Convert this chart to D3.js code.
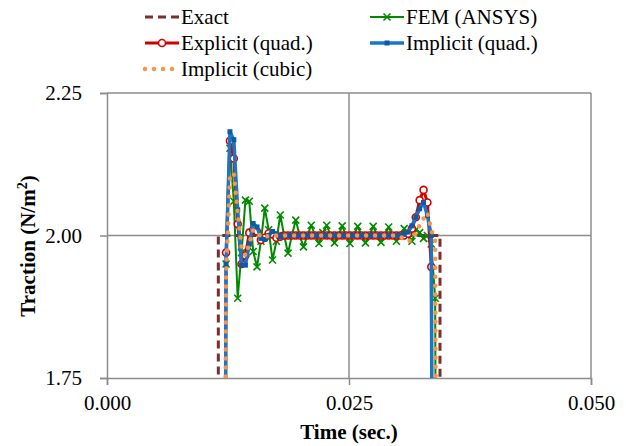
<!DOCTYPE html>
<html>
<head>
<meta charset="utf-8">
<script src="https://cdn.jsdelivr.net/npm/d3@7/dist/d3.min.js"></script>
<style>
  body { margin: 0; background: #fff; }
  svg { display: block; }
  svg text { font-family: "Liberation Serif", "DejaVu Serif", "Times New Roman", serif; fill: #000; }
  .axis path, .axis line { stroke: #8c8c8c; stroke-width: 1.5; }
  .axis text { font-size: 21px; }
</style>
</head>
<body>
<svg class="chart"></svg>
<script>
// -------------------- Data --------------------
// Exact solution (step), clipped by the plot area
var exactTime = [0.0115, 0.0115, 0.0344, 0.0344];
var exactValue = [0, 2.00, 2.00, 0];

// Time steps shared by the numerical solutions (sec.)
var timeSteps = [
  0.0119, 0.0123, 0.0127, 0.0131, 0.0135, 0.0139, 0.0143, 0.0147, 0.0151, 0.0155,
  0.0159, 0.0163, 0.0167, 0.0171, 0.0175, 0.0179, 0.0183, 0.0187, 0.0191, 0.0195,
  0.0199, 0.0203, 0.0207, 0.0211, 0.0215, 0.0219, 0.0223, 0.0227, 0.0231, 0.0235,
  0.0239, 0.0243, 0.0247, 0.0251, 0.0255, 0.0259, 0.0263, 0.0267, 0.0271, 0.0275,
  0.0279, 0.0283, 0.0287, 0.0291, 0.0295, 0.0299, 0.0303, 0.0307, 0.0311, 0.0315,
  0.0319, 0.0323, 0.0327, 0.0331, 0.0335, 0.0339, 0.0343
];

var femAnsys = [
  0, 1.95, 2.153, 2.06, 1.89, 1.97, 2.062, 2.06, 1.972, 1.945,
  1.99, 2.048, 2.01, 1.957, 1.99, 2.036, 2.0, 1.969, 2.0, 2.027,
  2.0, 1.98, 2.0, 2.018, 2.0, 1.986, 2.005, 2.018, 2.0, 1.987,
  2.0, 2.017, 2.0, 1.986, 2.0, 2.016, 2.0, 1.987, 2.0, 2.016,
  2.0, 1.988, 2.0, 2.015, 2.0, 1.99, 2.0, 2.012, 2.0, 1.99,
  2.01, 2.005, 1.995, 2.0, 1.985, 1.89, 0
];

var explicitQuad = [
  0, 1.97, 2.166, 2.135, 2.02, 1.95, 1.965, 2.005, 2.01, 2.007,
  1.992, 1.996, 2.004, 2.002, 1.996, 1.998, 2.0, 2.0, 2.0, 2.0,
  2.0, 2.0, 2.0, 2.0, 2.0, 2.0, 2.0, 2.0, 2.0, 2.0,
  2.0, 2.0, 2.0, 2.0, 2.0, 2.0, 2.0, 2.0, 2.0, 2.0,
  2.0, 2.0, 2.0, 2.0, 2.0, 2.0, 2.0, 2.0, 2.003, 2.012,
  2.032, 2.062, 2.08, 2.058, 1.945, 0
];

var implicitQuad = [
  0, 1.95, 2.182, 2.168, 2.045, 1.948, 1.948, 1.985, 2.021, 2.015,
  1.995, 1.993, 2.0, 2.007, 2.003, 1.998, 2.0, 2.0, 2.0, 2.0,
  2.0, 2.0, 2.0, 2.0, 2.0, 2.0, 2.0, 2.0, 2.0, 2.0,
  2.0, 2.0, 2.0, 2.0, 2.0, 2.0, 2.0, 2.0, 2.0, 2.0,
  2.0, 2.0, 2.0, 2.0, 2.0, 2.0, 2.0, 2.002, 2.006, 2.017,
  2.032, 2.047, 2.058, 2.035, 2.0, 0
];

var implicitCubic = [
  0, 1.93, 2.10, 2.11, 2.04, 1.98, 1.965, 1.985, 2.01, 2.005,
  1.998, 1.996, 2.0, 2.0, 2.0, 2.0, 2.0, 2.0, 2.0, 2.0,
  2.0, 2.0, 2.0, 2.0, 2.0, 2.0, 2.0, 2.0, 2.0, 2.0,
  2.0, 2.0, 2.0, 2.0, 2.0, 2.0, 2.0, 2.0, 2.0, 2.0,
  2.0, 2.0, 2.0, 2.0, 2.0, 2.0, 1.998, 1.994, 1.99, 1.992,
  2.005, 2.018, 2.03, 2.04, 2.01, 1.99, 0
];

var xTicks = [0.000, 0.025, 0.050];
var yTicks = [1.75, 2.00, 2.25];


// -------------------- Settings --------------------
var margin = {top: 93, right: 35, bottom: 68, left: 107}
  , width = 626 - margin.left - margin.right
  , height = 446 - margin.top - margin.bottom;

var svg = d3.select(".chart")
  .attr("width", 626)
  .attr("height", 446);

var chart = svg.append("g")
    .attr("transform", "translate(" + margin.left + "," + margin.top + ")");

// -------------------- Scales --------------------
var x = d3.scaleLinear().domain([0, 0.05]).range([0, width]);
var y = d3.scaleLinear().domain([1.75, 2.25]).range([height, 0]);

// -------------------- Grid + axes --------------------
chart.append("g")
  .selectAll("line.hgrid")
  .data(yTicks.slice(1))
  .enter().append("line")
    .attr("x1", 0).attr("x2", width)
    .attr("y1", function(d) { return y(d); })
    .attr("y2", function(d) { return y(d); })
    .attr("stroke", "#8c8c8c").attr("stroke-width", 1.5);

chart.append("g")
  .selectAll("line.vgrid")
  .data(xTicks.slice(1))
  .enter().append("line")
    .attr("y1", 0).attr("y2", height)
    .attr("x1", function(d) { return x(d); })
    .attr("x2", function(d) { return x(d); })
    .attr("stroke", "#8c8c8c").attr("stroke-width", 1.5);

var xAxis = d3.axisBottom(x)
  .tickValues(xTicks)
  .tickSize(7)
  .tickPadding(10)
  .tickFormat(d3.format(".3f"));
chart.append("g")
  .attr("class", "x axis")
  .attr("transform", "translate(0," + height + ")")
  .call(xAxis);

var yAxis = d3.axisLeft(y)
  .tickValues(yTicks)
  .tickSize(7)
  .tickPadding(18)
  .tickFormat(d3.format(".2f"));
chart.append("g")
  .attr("class", "y axis")
  .call(yAxis);

chart.selectAll(".axis").attr("font-family", null).attr("font-size", null);

// axis titles
svg.append("text")
  .attr("x", margin.left + x(0.025))
  .attr("y", 439)
  .attr("text-anchor", "middle")
  .style("font-size", "21px")
  .style("font-weight", "bold")
  .text("Time (sec.)");

var yTitle = svg.append("text")
  .attr("transform", "translate(35,246) rotate(-90)")
  .attr("text-anchor", "middle")
  .style("font-size", "21px")
  .style("font-weight", "bold");
yTitle.append("tspan").text("Traction (N/m");
yTitle.append("tspan").attr("dy", -8).style("font-size", "14px").text("2");
yTitle.append("tspan").attr("dy", 8).text(")");

// -------------------- Series --------------------
chart.append("clipPath").attr("id", "plot-clip")
  .append("rect").attr("x", 0).attr("y", 0).attr("width", width).attr("height", height);

var plot = chart.append("g").attr("clip-path", "url(#plot-clip)");

function pairs(ts, vs) {
  return vs.map(function(v, i) { return [ts[i], v]; });
}

var line = d3.line()
  .x(function(d) { return x(d[0]); })
  .y(function(d) { return y(d[1]); });

var series = [
  {name: "Exact", data: pairs(exactTime, exactValue), color: "#7a2e2e", width: 3, dash: "8,5", cap: "butt", marker: "none"},
  {name: "FEM (ANSYS)", data: pairs(timeSteps, femAnsys), color: "#008a00", width: 2, dash: null, cap: "butt", marker: "cross"},
  {name: "Explicit (quad.)", data: pairs(timeSteps, explicitQuad), color: "#d40000", width: 3, dash: null, cap: "butt", marker: "circle"},
  {name: "Implicit (quad.)", data: pairs(timeSteps, implicitQuad), color: "#1a76c9", width: 3.5, dash: null, cap: "butt", marker: "square"},
  {name: "Implicit (cubic)", data: pairs(timeSteps, implicitCubic), color: "#f79646", width: 4.5, dash: "0,9", cap: "round", marker: "none"}
];

function drawMarker(g, type, color, cx, cy) {
  if (type === "cross") {
    g.append("path")
      .attr("d", "M" + (cx - 3.5) + "," + (cy - 3.5) + "L" + (cx + 3.5) + "," + (cy + 3.5) +
                 "M" + (cx - 3.5) + "," + (cy + 3.5) + "L" + (cx + 3.5) + "," + (cy - 3.5))
      .attr("stroke", color).attr("stroke-width", 1.6).attr("fill", "none");
  } else if (type === "circle") {
    g.append("circle")
      .attr("cx", cx).attr("cy", cy).attr("r", 3.5)
      .attr("stroke", color).attr("stroke-width", 1.6).attr("fill", "#fff");
  } else if (type === "square") {
    g.append("rect")
      .attr("x", cx - 2.5).attr("y", cy - 2.5).attr("width", 5).attr("height", 5)
      .attr("fill", "#0d5aa7");
  }
}

series.forEach(function(s) {
  plot.append("path")
    .datum(s.data)
    .attr("fill", "none")
    .attr("stroke", s.color)
    .attr("stroke-width", s.width)
    .attr("stroke-dasharray", s.dash)
    .attr("stroke-linecap", s.cap)
    .attr("stroke-linejoin", "round")
    .attr("d", line);

  if (s.marker !== "none") {
    var mg = plot.append("g");
    s.data.forEach(function(d) {
      drawMarker(mg, s.marker, s.color, x(d[0]), y(d[1]));
    });
  }
});

// -------------------- Legend --------------------
var legendPos = [[145, 17], [370, 17], [145, 43], [370, 43], [145, 69]];
var legendOrder = [0, 1, 2, 3, 4];

legendOrder.forEach(function(si, i) {
  var s = series[si];
  var lx = legendPos[i][0], ly = legendPos[i][1];
  var lg = svg.append("g");
  lg.append("line")
    .attr("x1", lx).attr("x2", lx + 34)
    .attr("y1", ly).attr("y2", ly)
    .attr("stroke", s.color)
    .attr("stroke-width", s.width)
    .attr("stroke-dasharray", s.dash)
    .attr("stroke-linecap", s.cap);
  if (s.marker !== "none") drawMarker(lg, s.marker, s.color, lx + 17, ly);
  lg.append("text")
    .attr("x", lx + 36)
    .attr("y", ly)
    .attr("dy", "0.35em")
    .style("font-size", "21px")
    .text(s.name);
});
</script>
</body>
</html>
